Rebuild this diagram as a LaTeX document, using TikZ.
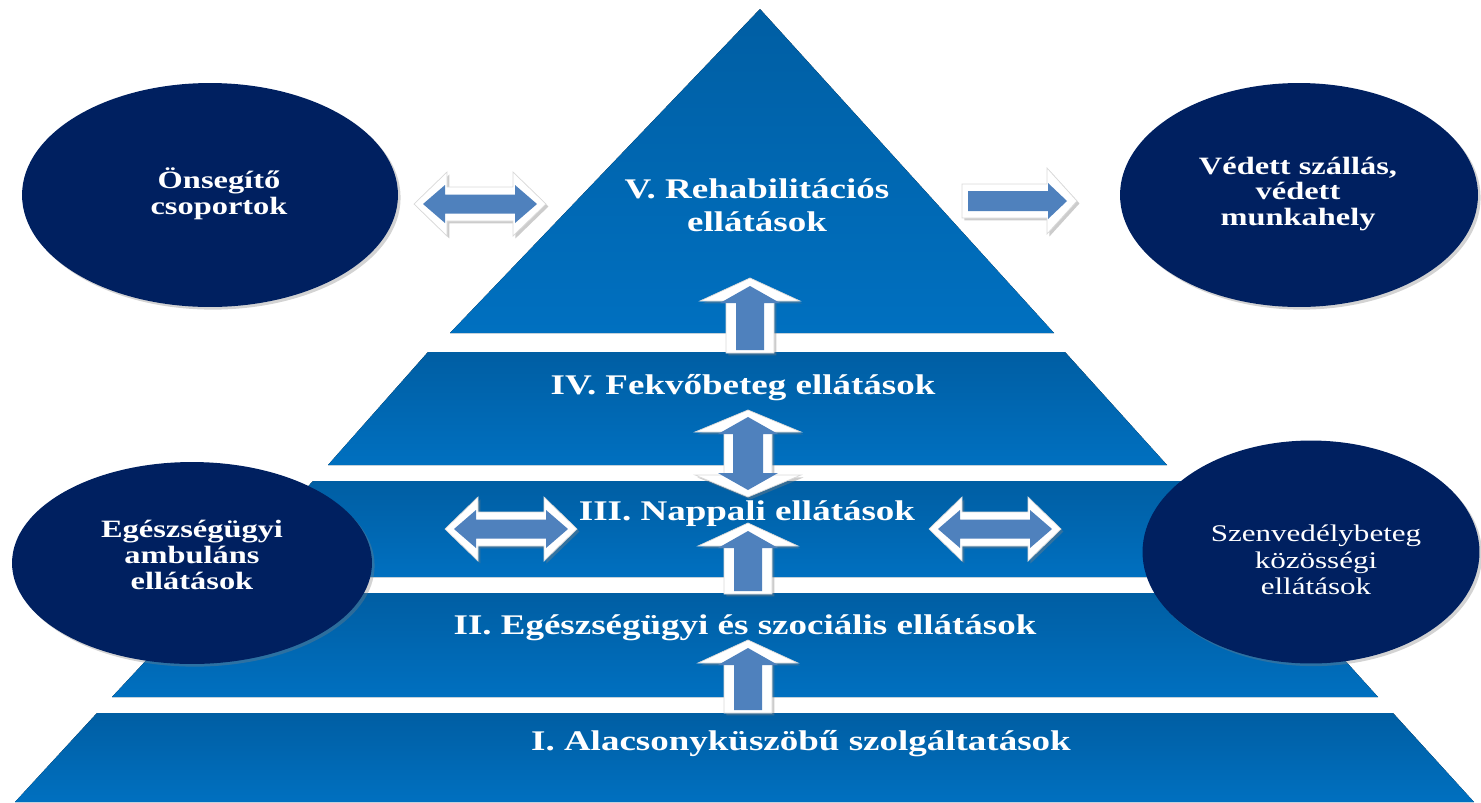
\documentclass[tikz,border=0pt]{standalone}
\usepackage{fontspec}
\setmainfont{Liberation Serif}
\newfontfamily\widefont[FakeStretch=1.3]{Liberation Serif}
\usetikzlibrary{shadows}

\definecolor{layerdark}{RGB}{0,94,163}
\definecolor{layerlight}{RGB}{0,112,192}
\definecolor{navy}{RGB}{0,32,96}
\definecolor{arrowblue}{RGB}{79,129,189}

\tikzset{
  layer/.style={top color=layerdark, bottom color=layerlight},
  bubble/.style={fill=navy, drop shadow={opacity=.35, shadow xshift=1.5pt, shadow yshift=-1.5pt}},
  blockout/.style={fill=white, draw=black!15, drop shadow={opacity=.4, shadow xshift=1.4pt, shadow yshift=-1.4pt}},
  blockin/.style={fill=arrowblue},
  lbl/.style={text=white, align=center, font=\widefont\bfseries\fontsize{16.2}{18.5}\selectfont},
  bubbletxt/.style={text=white, align=center, font=\widefont\bfseries\fontsize{14.2}{14.6}\selectfont}
}

\begin{document}
\begin{tikzpicture}[x=0.02cm, y=-0.02cm]
\useasboundingbox (0,0) rectangle (1481,802);

% pyramid
\fill[layer] (760,9) -- (1054,333) -- (450,333) -- cycle;
\fill[layer] (428,352) -- (1065,352) -- (1167,465) -- (328,465) -- cycle;
\fill[layer] (313,481) -- (1182,481) -- (1269,577) -- (224,577) -- cycle;
\fill[layer] (209,593) -- (1284,593) -- (1378,697) -- (112,697) -- cycle;
\fill[layer] (97,713) -- (1393,713) -- (1474,802) -- (15,802) -- cycle;

% side ellipses
\fill[bubble] (210,195) ellipse [x radius=3.76cm, y radius=2.24cm];
\fill[bubble] (1299,195) ellipse [x radius=3.58cm, y radius=2.24cm];
\fill[bubble] (192,563) ellipse [x radius=3.6cm, y radius=2.02cm];
\fill[bubble] (1311,552) ellipse [x radius=3.37cm, y radius=2.23cm];

% block arrows
\foreach \cx/\cy in {480/204, 511/529, 995/529} {
  \path[blockout] (\cx-66,\cy) -- (\cx-33,\cy-32) -- (\cx-33,\cy-17) -- (\cx+33,\cy-17) -- (\cx+33,\cy-32) -- (\cx+66,\cy)
    -- (\cx+33,\cy+32) -- (\cx+33,\cy+17) -- (\cx-33,\cy+17) -- (\cx-33,\cy+32) -- cycle;
  \path[blockin] (\cx-57,\cy) -- (\cx-35,\cy-19) -- (\cx-35,\cy-9.5) -- (\cx+35,\cy-9.5) -- (\cx+35,\cy-19) -- (\cx+57,\cy)
    -- (\cx+35,\cy+19) -- (\cx+35,\cy+9.5) -- (\cx-35,\cy+9.5) -- (\cx-35,\cy+19) -- cycle;
}
\foreach \cx/\tip/\bot in {750/278/353, 748/523/594, 748/640/713} {
  \path[blockout] (\cx,\tip) -- (\cx+50,\tip+23) -- (\cx+24,\tip+23) -- (\cx+24,\bot) -- (\cx-24,\bot) -- (\cx-24,\tip+23) -- (\cx-50,\tip+23) -- cycle;
  \path[blockin] (\cx,\tip+8) -- (\cx+30,\tip+25) -- (\cx+14,\tip+25) -- (\cx+14,\bot-3) -- (\cx-14,\bot-3) -- (\cx-14,\tip+25) -- (\cx-30,\tip+25) -- cycle;
}
\path[blockout] (748,410) -- (801,432) -- (772,432) -- (772,475) -- (801,475) -- (748,497) -- (695,475) -- (724,475) -- (724,432) -- (695,432) -- cycle;
\path[blockin] (748,417) -- (778,434) -- (763,434) -- (763,473) -- (778,473) -- (748,490) -- (718,473) -- (733,473) -- (733,434) -- (718,434) -- cycle;
\path[blockout] (962,184) -- (1047,184) -- (1047,168) -- (1077,201) -- (1047,234) -- (1047,218) -- (962,218) -- cycle;
\path[blockin] (968,191) -- (1048,191) -- (1048,183) -- (1067,201) -- (1048,219) -- (1048,211) -- (968,211) -- cycle;

% labels
\node[lbl] (rehab) at (757,205) {V. Rehabilitációs\\ellátások};
\node[lbl] (fekvo) at (743,388) {IV. Fekvőbeteg ellátások};
\node[lbl] (nappali) at (747,514) {III. Nappali ellátások};
\node[lbl] (egeszseg) at (745,628) {II. Egészségügyi és szociális ellátások};
\node[lbl] (alacsony) at (801,744) {I. Alacsonyküszöbű szolgáltatások};

\node[bubbletxt] (onsegito) at (219,194) {Önsegítő\\csoportok};
\node[bubbletxt] (vedett) at (1298,194) {Védett szállás,\\védett\\munkahely};
\node[bubbletxt] (ambulans) at (192,555) {Egészségügyi\\ambuláns\\ellátások};
\node[bubbletxt, font=\widefont\fontsize{13.6}{15.2}\selectfont] (szenvedely) at (1316,560) {Szenvedélybeteg\\közösségi\\ellátások};

\end{tikzpicture}
\end{document}
